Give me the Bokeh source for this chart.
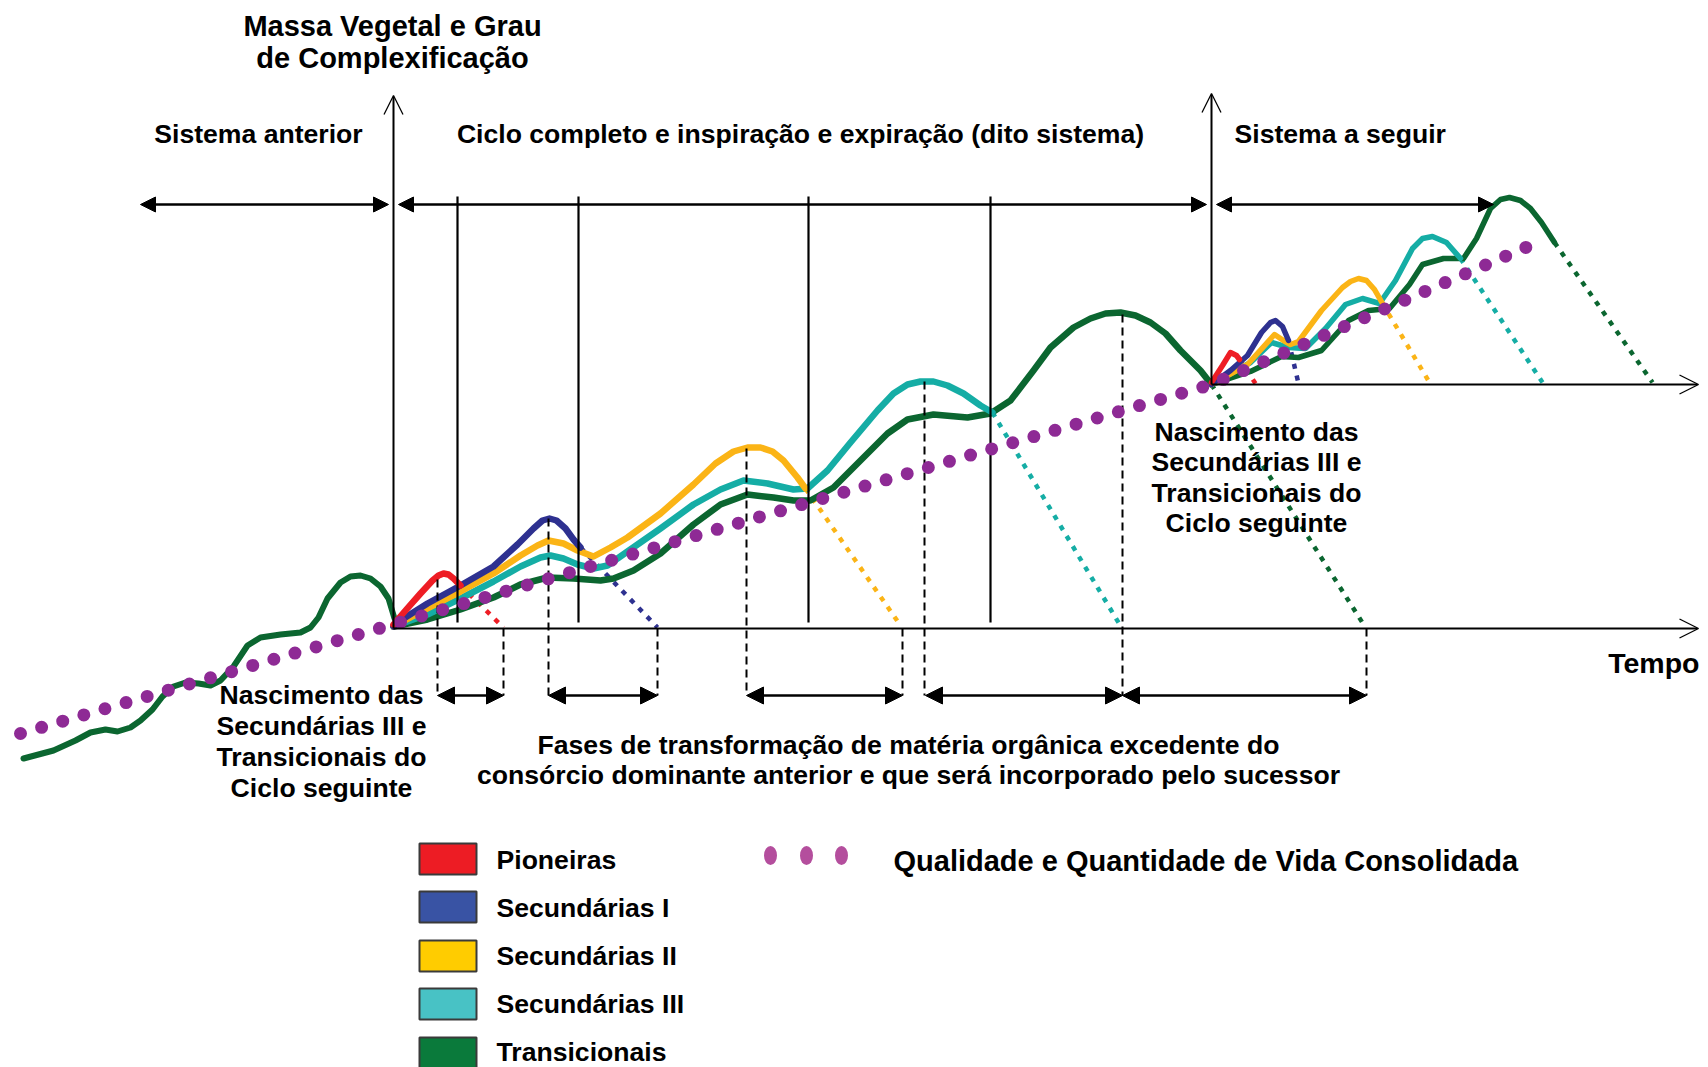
from bokeh.plotting import figure
from bokeh.models import Range1d, Arrow, NormalHead, OpenHead, ColumnDataSource
from bokeh.core.properties import value
from bokeh.embed import file_html
from bokeh.resources import INLINE

FONT = "Liberation Sans"

# ---------------- data (page-pixel units) ----------------
# previous system: transitional curve
prev_green_x = [23, 53, 75, 90, 105, 117, 130, 140, 152, 162, 173, 185, 198, 210, 220, 233, 247, 260, 280, 300, 310, 318, 327, 340, 350, 360, 370, 380, 388, 394]
prev_green_y = [758, 750, 740, 732, 729, 731, 727, 720, 709, 696, 686, 682, 683, 685, 680, 666, 645, 637, 634, 632, 627, 617, 598, 582, 576, 575, 578, 586, 598, 618]

# main cycle
green_x = [393, 427, 460, 493, 520, 547, 573, 600, 613, 633, 660, 693, 720, 747, 773, 793, 810, 833, 860, 887, 907, 933, 967, 990, 1010, 1033, 1050, 1073, 1090, 1105, 1120, 1135, 1150, 1165, 1180, 1200, 1211]
green_y = [626, 619, 609, 597, 584, 577, 578, 580, 578, 570, 553, 524, 504, 494, 497, 500, 500, 487, 460, 433, 419, 414, 417, 413, 400, 370, 347, 327, 318, 313, 312, 315, 322, 333, 350, 370, 384]
teal_x = [393, 427, 460, 493, 520, 540, 550, 563, 577, 593, 607, 627, 660, 693, 720, 743, 767, 793, 807, 827, 850, 877, 893, 907, 920, 933, 947, 963, 980, 992]
teal_y = [626, 614, 598, 581, 566, 557, 555, 558, 564, 568, 565, 551, 528, 504, 489, 480, 483, 489, 488, 470, 442, 410, 393, 384, 381, 381, 385, 393, 405, 412]
yellow_x = [393, 427, 460, 493, 520, 537, 548, 563, 577, 593, 610, 627, 660, 693, 715, 733, 747, 760, 772, 783, 797, 805]
yellow_y = [626, 608, 591, 573, 555, 545, 540, 543, 550, 556, 547, 537, 513, 484, 463, 451, 447, 447, 451, 460, 477, 488]
blue_x = [393, 400, 427, 460, 493, 517, 533, 542, 549, 556, 565, 573, 580]
blue_y = [626, 620, 603, 585, 566, 544, 528, 520, 518, 520, 528, 539, 547]
red_x = [393, 405, 420, 432, 438, 443, 448, 453, 460]
red_y = [624, 610, 593, 580, 575, 573, 574, 578, 585]

# next system
green2_x = [1211, 1250, 1281, 1298, 1321, 1348, 1368, 1389, 1409, 1422, 1443, 1463, 1476, 1490, 1500, 1509, 1520, 1530, 1541, 1554]
green2_y = [384, 371, 356, 357, 350, 320, 310, 308, 284, 264, 258, 258, 238, 208, 199, 197, 200, 208, 222, 242]
teal2_x = [1211, 1250, 1271, 1288, 1305, 1325, 1345, 1362, 1379, 1395, 1412, 1422, 1432, 1446, 1460]
teal2_y = [384, 362, 342, 347, 348, 328, 304, 298, 303, 280, 248, 238, 236, 242, 258]
yellow2_x = [1211, 1247, 1274, 1283, 1290, 1298, 1321, 1342, 1350, 1358, 1366, 1374, 1382]
yellow2_y = [384, 364, 334, 340, 344, 341, 310, 287, 281, 278, 280, 289, 303]
blue2_x = [1211, 1230, 1247, 1261, 1270, 1275, 1282, 1288]
blue2_y = [384, 370, 355, 332, 322, 320, 326, 340]
red2_x = [1211, 1222, 1230, 1236, 1239]
red2_y = [382, 365, 352, 355, 359]

# declining (dotted) parts: start -> end on the time axis
decline_colors = ["#EE1D25", "#2E3190", "#FBB416", "#15ADA5", "#0B6630",
                  "#EE1D25", "#2E3190", "#FBB416", "#15ADA5", "#0B6630"]
decline_x0 = [460, 580, 805, 992, 1211, 1239, 1288, 1382, 1460, 1554]
decline_y0 = [585, 547, 488, 412, 384, 359, 340, 303, 258, 242]
decline_x1 = [503, 657, 900, 1121, 1365, 1255, 1298, 1429, 1542, 1652]
decline_y1 = [627, 627, 625, 627, 627, 383, 383, 382, 382, 382]

# consolidated life quality (dotted purple)
quality_x = [20, 1211, 1532]
quality_y = [733, 384, 244]

# structure of the diagram
axis_x0 = [393, 1211, 393, 1211]
axis_y0 = [628, 384, 628, 384]
axis_x1 = [393, 1211, 1698, 1698]
axis_y1 = [95, 93, 628, 384]

span_x0 = [140, 398, 1216]
span_x1 = [388, 1206, 1493]
span_y = [204, 204, 204]

phase_x = [457, 578, 808, 990]
phase_top = [196, 196, 196, 196]
phase_bottom = [622, 622, 622, 622]

dash_x = [437, 503, 548, 657, 746, 902, 924, 1122, 1366]
dash_top = [579, 628, 518, 628, 448, 628, 381, 314, 628]
dash_bottom = [695, 695, 695, 695, 695, 695, 695, 695, 695]

trans_x0 = [437, 548, 746, 925, 1122]
trans_x1 = [503, 657, 902, 1122, 1366]
trans_y = [695, 695, 695, 695, 695]

legend_labels = ["Pioneiras", "Secundárias I", "Secundárias II", "Secundárias III", "Transicionais"]
legend_colors = ["#ED1C24", "#3953A4", "#FFCC00", "#48C2C5", "#0A7A3B"]
legend_top = [843, 891, 940, 988, 1037]
legend_text_y = [859, 907, 955, 1003, 1051]

# ---------------- figure ----------------
p = figure(width=1708, height=1067, x_range=Range1d(0, 1708), y_range=Range1d(1067, 0),
           output_backend="svg", toolbar_location=None, min_border=0,
           x_axis_location=None, y_axis_location=None)
p.grid.visible = False
p.outline_line_color = None
p.background_fill_color = "white"
p.border_fill_color = "white"

GREEN = "#0B6630"; TEAL = "#15ADA5"; YELLOW = "#FBB416"; BLUE = "#2E3190"; RED = "#EE1D25"

# declines
p.segment(x0=decline_x0, y0=decline_y0, x1=decline_x1, y1=decline_y1, line_color=decline_colors,
          line_width=4.5, line_dash="5 7")

# curves
p.line(prev_green_x, prev_green_y, line_color=GREEN, line_width=6, line_join="round", line_cap="round")
for xs, ys, c in [(green_x, green_y, GREEN), (teal_x, teal_y, TEAL), (yellow_x, yellow_y, YELLOW),
                  (blue_x, blue_y, BLUE), (red_x, red_y, RED)]:
    p.line(xs, ys, line_color=c, line_width=6.5, line_join="round", line_cap="round")
for xs, ys, c in [(green2_x, green2_y, GREEN), (teal2_x, teal2_y, TEAL), (yellow2_x, yellow2_y, YELLOW),
                  (blue2_x, blue2_y, BLUE), (red2_x, red2_y, RED)]:
    p.line(xs, ys, line_color=c, line_width=5.5, line_join="round", line_cap="round")

# black structure lines
p.segment(x0=phase_x, y0=phase_top, x1=phase_x, y1=phase_bottom, line_color="black", line_width=2.2)
p.segment(x0=dash_x, y0=dash_top, x1=dash_x, y1=dash_bottom, line_color="black", line_width=2, line_dash="8 5")

# axes with open heads
axis_src = ColumnDataSource(dict(x0=axis_x0, y0=axis_y0, x1=axis_x1, y1=axis_y1))
p.add_layout(Arrow(end=OpenHead(size=19, line_width=1.3, line_color="black"),
                   x_start="x0", y_start="y0", x_end="x1", y_end="y1",
                   source=axis_src, line_width=2, line_color="black"))

# top span arrows
span_src = ColumnDataSource(dict(x0=span_x0, x1=span_x1, y=span_y))
p.add_layout(Arrow(start=NormalHead(size=15, fill_color="black", line_color="black"),
                   end=NormalHead(size=15, fill_color="black", line_color="black"),
                   x_start="x0", y_start="y", x_end="x1", y_end="y",
                   source=span_src, line_width=2.5, line_color="black"))

# transformation phase arrows
trans_src = ColumnDataSource(dict(x0=trans_x0, x1=trans_x1, y=trans_y))
p.add_layout(Arrow(start=NormalHead(size=17, fill_color="black", line_color="black"),
                   end=NormalHead(size=17, fill_color="black", line_color="black"),
                   x_start="x0", y_start="y", x_end="x1", y_end="y",
                   source=trans_src, line_width=2.5, line_color="black"))

# consolidated quality dotted line
p.line(quality_x, quality_y, line_color="#8E2A95", line_width=13, line_dash="0 22", line_cap="round")

# ---------------- texts ----------------
def txt(xs, ys, texts, size="26.6px", align="center"):
    p.text(x=xs, y=ys, text=texts, text_font=value(FONT), text_font_style="bold",
           text_font_size=size, text_align=align, text_baseline="middle", text_color="black")

txt([392, 392], [25, 57], ["Massa Vegetal e Grau", "de Complexificação"], size="29px")
txt([258, 800], [133, 133], ["Sistema anterior", "Ciclo completo e inspiração e expiração (dito sistema)"])
txt([1234], [133], ["Sistema a seguir"], align="left")
born = ["Nascimento das", "Secundárias III e", "Transicionais do", "Ciclo seguinte"]
txt([321] * 4, [694, 725, 756, 787], born)
txt([1256] * 4, [431, 461, 492, 522], born)
txt([1699], [662], ["Tempo"], size="28.5px", align="right")
txt([908, 908], [744, 774], ["Fases de transformação de matéria orgânica excedente do",
                             "consórcio dominante anterior e que será incorporado pelo sucessor"])

# ---------------- legend ----------------
p.quad(left=[419] * 5, right=[476] * 5, top=legend_top, bottom=[t + 31 for t in legend_top],
       fill_color=legend_colors, line_color="#3a3a3a", line_width=2)
txt([496] * 5, legend_text_y, legend_labels, align="left")
p.ellipse(x=[770, 806, 841], y=[855, 855, 855], width=13, height=19, fill_color="#B44E9D", line_color=None)
txt([893], [860], ["Qualidade e Quantidade de Vida Consolidada"], size="29px", align="left")

open("out.html", "w").write(file_html(p, INLINE))
